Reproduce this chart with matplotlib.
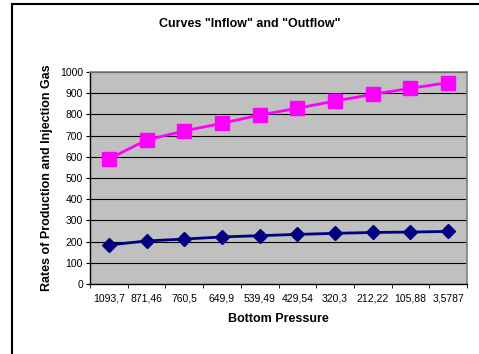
import numpy as np
import matplotlib.pyplot as plt
from matplotlib.patches import Rectangle

plt.rcParams['font.family'] = ['Liberation Sans', 'DejaVu Sans']

pressure = ["1093,7", "871,46", "760,5", "649,9", "539,49",
            "429,54", "320,3", "212,22", "105,88", "3,5787"]
inflow = [590, 679, 722, 758, 797, 829, 863, 895, 923, 950]
outflow = [184, 203, 212, 222, 228, 234, 239, 243, 245, 248]

fig = plt.figure(figsize=(4.79, 3.54), dpi=100)
fig.patch.set_facecolor('white')
# outer chart frame (runs off the right and bottom edges)
fig.patches.append(Rectangle((12/479, -0.1), 1.2, 1 - 4/354 + 0.1,
                             transform=fig.transFigure, fill=False,
                             edgecolor='black', linewidth=1.5))

ax = fig.add_axes([90/479, 70/354, 377/479, 212/354])
ax.set_facecolor('#c0c0c0')
x = np.arange(len(pressure))

ax.plot(x, inflow, color='#ff00ff', lw=2, marker='s', ms=10.5,
        mec='#ff00ff', zorder=3, clip_on=False)
ax.plot(x, outflow, color='#000080', lw=2, marker='D', ms=7.5,
        mec='#000080', zorder=3, clip_on=False)

ax.set_xlim(-0.5, len(pressure) - 0.5)
ax.set_ylim(0, 1000)
ax.set_yticks(range(0, 1001, 100))
ax.set_xticks(x)
ax.set_xticklabels(pressure)
ax.set_xticks(np.arange(-0.5, len(pressure)), minor=True)
ax.tick_params(axis='x', which='major', length=0, labelsize=7.5, pad=7)
ax.tick_params(axis='x', which='minor', length=3, direction='out')
ax.tick_params(axis='y', labelsize=7.5, length=3, direction='out', pad=2)
ax.yaxis.grid(True, color='black', lw=0.8)
ax.set_axisbelow(True)
for s in ['top', 'right']:
    ax.spines[s].set_color('#808080')
    ax.spines[s].set_linewidth(1.2)
for s in ['left', 'bottom']:
    ax.spines[s].set_color('black')
    ax.spines[s].set_linewidth(1)

fig.text(250/479, 1 - 24/354, 'Curves "Inflow" and "Outflow"', ha='center',
         va='center', fontsize=9, fontweight='bold')
ax.set_xlabel('Bottom Pressure', fontsize=9, fontweight='bold', labelpad=7)
ax.set_ylabel('Rates of Production and Injection Gas', fontsize=9,
              fontweight='bold', labelpad=5)

fig.savefig('out.png', dpi=100)
